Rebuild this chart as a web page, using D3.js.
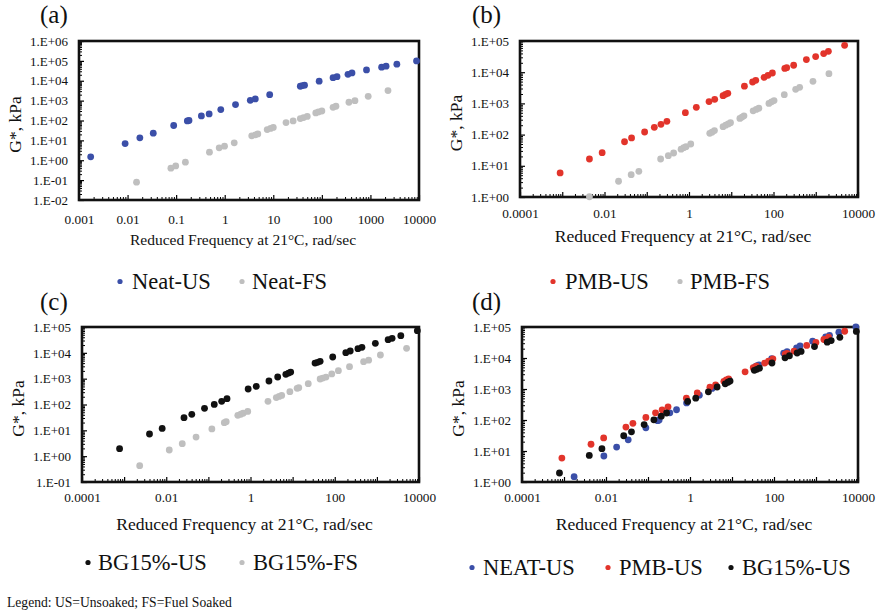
<!DOCTYPE html>
<html>
<head>
<meta charset="utf-8">
<script src="https://cdn.jsdelivr.net/npm/d3@7"></script>
<style>
  body { margin: 0; background: #fff; }
  svg { display: block; font-family: "Liberation Serif", "Times New Roman", serif; }
</style>
</head>
<body>
<svg id="chart" width="881" height="614"></svg>
<script>
// [reduced frequency (rad/s), |G*| (kPa)]
const neatUS = [
  [0.00174, 1.48], [0.0089, 6.9], [0.0179, 13.4], [0.0338, 22.9], [0.089, 56],
  [0.17, 95], [0.184, 100], [0.331, 170], [0.478, 214], [0.83, 355],
  [1.67, 631], [3.36, 1040], [4.26, 1220], [8.43, 2000], [36, 5300],
  [40, 5700], [44, 6000], [88, 9500], [170, 14300], [205, 16000],
  [345, 21000], [417, 24700], [830, 35000], [1700, 48000], [2100, 54000],
  [3500, 68000], [8900, 100000]
];
const neatFS = [
  [0.0153, 0.079], [0.078, 0.4], [0.098, 0.52], [0.155, 0.8], [0.485, 2.54],
  [0.77, 4.2], [0.99, 5.1], [1.57, 7.5], [3.6, 17], [4.3, 19],
  [4.8, 21], [7.5, 35], [8.8, 40], [10, 45], [18.3, 79],
  [25.6, 95], [36, 125], [42, 140], [50, 160], [75, 240],
  [85, 270], [100, 300], [170, 460], [195, 520], [361, 830],
  [480, 1000], [900, 1650], [2300, 3200]
];
const pmbUS = [
  [0.00089, 5.9], [0.0044, 16.5], [0.0088, 26.4], [0.0298, 59], [0.0437, 78],
  [0.089, 121], [0.151, 171], [0.217, 213], [0.3, 266], [0.82, 505],
  [1.49, 748], [2.98, 1140], [4.06, 1350], [6.4, 1770], [7.3, 1950],
  [8.3, 2100], [20.5, 3570], [32, 4850], [38, 5500], [60, 6870],
  [74, 7940], [94, 9420], [185, 13200], [205, 14000], [300, 16700],
  [600, 25400], [995, 31600], [1540, 39500], [1990, 46800], [4820, 72800]
];
const pmbFS = [
  [0.0044, 1.02], [0.0215, 3.2], [0.0428, 5.2], [0.065, 6.65], [0.213, 16.5],
  [0.324, 21.1], [0.433, 25.7], [0.65, 34], [0.75, 38], [0.85, 41],
  [1.1, 50], [3.1, 110], [3.5, 120], [4.0, 135], [6.4, 180],
  [7.4, 200], [8.5, 220], [9.6, 240], [16, 330], [18, 365],
  [20, 400], [33, 580], [39, 640], [45, 700], [78, 1000],
  [90, 1120], [103, 1230], [180, 1900], [335, 2830], [416, 3280],
  [859, 5100], [2050, 9000]
];
const bgUS = [
  [0.00078, 1.95], [0.004, 7.2], [0.008, 11.9], [0.0264, 31], [0.0404, 41.6],
  [0.081, 71], [0.138, 101], [0.207, 133], [0.277, 168], [0.88, 398],
  [1.37, 505], [2.74, 813], [4.42, 1160], [6.9, 1470], [8.0, 1650],
  [9.0, 1800], [34, 4000], [39, 4300], [45, 4700], [89.5, 6900],
  [183, 10100], [233, 11800], [355, 14500], [442, 16300], [920, 23300],
  [1850, 32400], [2300, 36500], [3700, 46300], [9130, 72200]
];
const bgFS = [
  [0.00234, 0.43], [0.0118, 1.73], [0.024, 3.05], [0.051, 5.5], [0.121, 11.3],
  [0.239, 19.8], [0.265, 21.6], [0.5, 38], [0.59, 42], [0.67, 46],
  [0.86, 54], [2.6, 133], [4.1, 185], [4.8, 205], [5.5, 225],
  [8.6, 314], [12.8, 423], [14, 445], [23.5, 640], [45, 970],
  [52, 1050], [62, 1150], [85, 1520], [122, 2040], [224, 2920],
  [484, 4550], [638, 5200], [1213, 8240], [5070, 14900]
];

const xTicksA = [0.001, 0.01, 0.1, 1, 10, 100, 1000, 10000];
const xTicksB = [0.0001, 0.01, 1, 100, 10000];
const yTicksA = [1e-2, 1e-1, 1e0, 1e1, 1e2, 1e3, 1e4, 1e5, 1e6];
const yTicksB = [1e0, 1e1, 1e2, 1e3, 1e4, 1e5];
const yTicksC = [1e-1, 1e0, 1e1, 1e2, 1e3, 1e4, 1e5];

const xTitle = "Reduced Frequency at 21°C, rad/sec";
const yTitle = "G*, kPa";
const footnote = "Legend: US=Unsoaked; FS=Fuel Soaked";

const BLUE = "#3b4fa8", RED = "#e2342b", GRAY = "#bfbfbf", BLACK = "#111111";

function fmtE(v) {
  const e = Math.round(Math.log10(v));
  return "1.E" + (e < 0 ? "-" : "+") + String(Math.abs(e)).padStart(2, "0");
}

// 2..9 minor values inside every decade of a log domain
function minorTicks(domain) {
  const lo = Math.round(Math.log10(domain[0]));
  const hi = Math.round(Math.log10(domain[1]));
  const out = [];
  d3.range(lo, hi).forEach((k) => {
    for (let m = 2; m <= 9; m++) out.push(m * Math.pow(10, k));
  });
  return out;
}

function styleLines(g, w) {
  g.select(".domain").remove();
  g.selectAll("line").attr("stroke", "#000").attr("stroke-width", w);
}

document.addEventListener("DOMContentLoaded", function () {
  const svg = d3.select("#chart");

  const panels = [
    {
      label: "(a)", lx: 40, ly: 23,
      box: { left: 79, right: 419, top: 41, bottom: 200 },
      xTicks: xTicksA, yTicks: yTicksA, labelPad: 14.5, titleSize: 15.5, titleY: 245,
      series: [{ data: neatUS, color: BLUE }, { data: neatFS, color: GRAY }],
      legend: [
        { name: "Neat-US", color: BLUE, mx: 120, tx: 132 },
        { name: "Neat-FS", color: GRAY, mx: 242, tx: 252 }
      ],
      legendY: 289
    },
    {
      label: "(b)", lx: 472, ly: 23,
      box: { left: 520, right: 858, top: 41, bottom: 197 },
      xTicks: xTicksB, yTicks: yTicksB, labelPad: 12, titleSize: 17.6, titleY: 242,
      series: [{ data: pmbUS, color: RED }, { data: pmbFS, color: GRAY }],
      legend: [
        { name: "PMB-US", color: RED, mx: 553, tx: 565 },
        { name: "PMB-FS", color: GRAY, mx: 680, tx: 690 }
      ],
      legendY: 289
    },
    {
      label: "(c)", lx: 40, ly: 310,
      box: { left: 82, right: 419, top: 327, bottom: 482 },
      xTicks: xTicksB, yTicks: yTicksC, labelPad: 10.5, titleSize: 17.6, titleY: 530,
      series: [{ data: bgUS, color: BLACK }, { data: bgFS, color: GRAY }],
      legend: [
        { name: "BG15%-US", color: BLACK, mx: 88, tx: 98 },
        { name: "BG15%-FS", color: GRAY, mx: 242, tx: 253 }
      ],
      legendY: 570
    },
    {
      label: "(d)", lx: 472, ly: 310,
      box: { left: 522, right: 858, top: 327, bottom: 482 },
      xTicks: xTicksB, yTicks: yTicksB, labelPad: 10.5, titleSize: 17.6, titleY: 530,
      series: [
        { data: neatUS, color: BLUE },
        { data: pmbUS, color: RED },
        { data: bgUS, color: BLACK }
      ],
      legend: [
        { name: "NEAT-US", color: BLUE, mx: 472, tx: 483 },
        { name: "PMB-US", color: RED, mx: 608, tx: 619 },
        { name: "BG15%-US", color: BLACK, mx: 731, tx: 742 }
      ],
      legendY: 575
    }
  ];

  panels.forEach(function (p) {
    const b = p.box;
    const x = d3.scaleLog()
      .domain([p.xTicks[0], p.xTicks[p.xTicks.length - 1]])
      .range([b.left, b.right]);
    const y = d3.scaleLog()
      .domain([p.yTicks[0], p.yTicks[p.yTicks.length - 1]])
      .range([b.bottom, b.top]);

    // x axis: minor + decade ticks pointing into the plot
    svg.append("g")
      .attr("transform", `translate(0,${b.bottom})`)
      .call(d3.axisBottom(x).tickValues(minorTicks(x.domain())).tickSize(-3).tickFormat(""))
      .call((g) => styleLines(g, 1));

    const lo = Math.round(Math.log10(x.domain()[0]));
    const hi = Math.round(Math.log10(x.domain()[1]));
    const decades = d3.range(lo, hi + 1).map((k) => Math.pow(10, k));
    const labelSet = new Set(p.xTicks.map((v) => Math.round(Math.log10(v))));
    svg.append("g")
      .attr("transform", `translate(0,${b.bottom})`)
      .call(
        d3.axisBottom(x)
          .tickValues(decades)
          .tickSize(-5)
          .tickPadding(p.labelPad)
          .tickFormat((v) => (labelSet.has(Math.round(Math.log10(v))) ? String(v) : ""))
      )
      .call((g) => styleLines(g, 1.2))
      .call((g) =>
        g.selectAll("text")
          .attr("fill", "#111")
          .style("font-family", "Liberation Serif, serif")
          .style("font-size", "13.3px")
      );

    // y axis: minor + decade ticks, also inside
    svg.append("g")
      .attr("transform", `translate(${b.left},0)`)
      .call(d3.axisLeft(y).tickValues(minorTicks(y.domain())).tickSize(-3).tickFormat(""))
      .call((g) => styleLines(g, 1));

    svg.append("g")
      .attr("transform", `translate(${b.left},0)`)
      .call(d3.axisLeft(y).tickValues(p.yTicks).tickSize(-5).tickPadding(11).tickFormat(fmtE))
      .call((g) => styleLines(g, 1.2))
      .call((g) =>
        g.selectAll("text")
          .attr("fill", "#111")
          .style("font-family", "Liberation Serif, serif")
          .style("font-size", "13px")
      );

    // thick plot-area frame
    svg.append("rect")
      .attr("x", b.left)
      .attr("y", b.top)
      .attr("width", b.right - b.left)
      .attr("height", b.bottom - b.top)
      .attr("fill", "none")
      .attr("stroke", "#111")
      .attr("stroke-width", 2.6);

    p.series.forEach(function (s) {
      svg.append("g")
        .selectAll("circle")
        .data(s.data)
        .enter()
        .append("circle")
        .attr("cx", (d) => x(d[0]))
        .attr("cy", (d) => y(d[1]))
        .attr("r", 3.4)
        .attr("fill", s.color);
    });

    svg.append("text")
      .attr("x", p.lx)
      .attr("y", p.ly)
      .style("font-size", "25px")
      .attr("fill", "#111")
      .text(p.label);

    svg.append("text")
      .attr("x", (b.left + b.right) / 2 - 6)
      .attr("y", p.titleY)
      .attr("text-anchor", "middle")
      .style("font-size", p.titleSize + "px")
      .attr("fill", "#111")
      .text(xTitle);

    const cy = (b.top + b.bottom) / 2 + 4;
    const tx = b.left - 58;
    svg.append("text")
      .attr("transform", `translate(${tx},${cy}) rotate(-90)`)
      .attr("text-anchor", "middle")
      .style("font-size", "17.5px")
      .attr("fill", "#111")
      .text(yTitle);

    const leg = svg.append("g")
      .selectAll("g")
      .data(p.legend)
      .enter()
      .append("g");
    leg.append("circle")
      .attr("cx", (d) => d.mx)
      .attr("cy", p.legendY - 7.5)
      .attr("r", 2.6)
      .attr("fill", (d) => d.color);
    leg.append("text")
      .attr("x", (d) => d.tx)
      .attr("y", p.legendY)
      .style("font-size", "22.5px")
      .attr("fill", "#111")
      .text((d) => d.name);
  });

  svg.append("text")
    .attr("x", 7)
    .attr("y", 606.5)
    .style("font-size", "13.6px")
    .attr("fill", "#111")
    .text(footnote);
});
</script>
</body>
</html>
